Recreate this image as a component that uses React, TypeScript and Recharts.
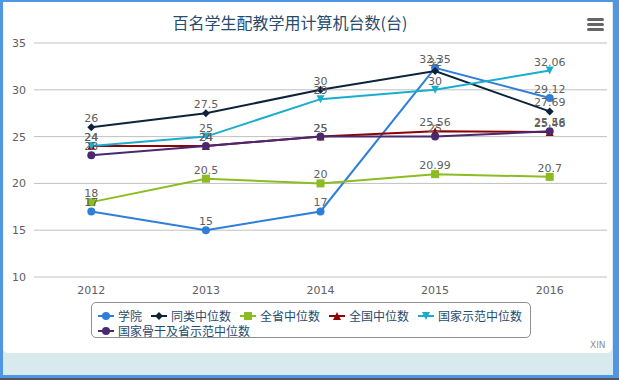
import React from "react";
import { LineChart, Line, XAxis, YAxis, CartesianGrid, LabelList } from "recharts";

const years = [2012, 2013, 2014, 2015, 2016];
const xueyuan = [17, 15, 17, 32.35, 29.12];
const tonglei = [26, 27.5, 30, 32, 27.69];
const quansheng = [18, 20.5, 20, 20.99, 20.7];
const quanguo = [24, 24, 25, 25.56, 25.48];
const guojiaShifan = [24, 25, 29, 30, 32.06];
const guganShifan = [23, 24, 25, 25, 25.56];
const yTicks = [10, 15, 20, 25, 30, 35];
const bandEdges = [2011.5, 2012.5, 2013.5, 2014.5, 2015.5, 2016.5];

const series = [
  { key: "s0", name: "学院", values: xueyuan, color: "#2f7ed8", marker: "circle" },
  { key: "s1", name: "同类中位数", values: tonglei, color: "#0d233a", marker: "diamond" },
  { key: "s2", name: "全省中位数", values: quansheng, color: "#8bbc21", marker: "square" },
  { key: "s3", name: "全国中位数", values: quanguo, color: "#910000", marker: "triangle" },
  { key: "s4", name: "国家示范中位数", values: guojiaShifan, color: "#1aadce", marker: "triangle-down" },
  { key: "s5", name: "国家骨干及省示范中位数", values: guganShifan, color: "#492970", marker: "circle" },
];

const data = years.map((year, i) => {
  const row: Record<string, number> = { year };
  series.forEach((s) => (row[s.key] = s.values[i]));
  return row;
});

function markerShape(shape: string, cx: number, cy: number, color: string, key?: any) {
  switch (shape) {
    case "diamond":
      return <path key={key} d={`M${cx} ${cy - 4}L${cx + 4} ${cy}L${cx} ${cy + 4}L${cx - 4} ${cy}Z`} fill={color} />;
    case "square":
      return <rect key={key} x={cx - 4} y={cy - 4} width={8} height={8} fill={color} />;
    case "triangle":
      return <path key={key} d={`M${cx} ${cy - 4}L${cx + 4} ${cy + 4}L${cx - 4} ${cy + 4}Z`} fill={color} />;
    case "triangle-down":
      return <path key={key} d={`M${cx - 4} ${cy - 4}L${cx + 4} ${cy - 4}L${cx} ${cy + 4}Z`} fill={color} />;
    default:
      return <circle key={key} cx={cx} cy={cy} r={4} fill={color} />;
  }
}

function LegendBox() {
  return (
    <div
      style={{
        position: "absolute",
        left: 91,
        top: 302,
        width: 440,
        height: 36,
        boxSizing: "border-box",
        border: "1px solid #909090",
        borderRadius: 5,
        fontFamily: "'Noto Sans CJK SC', sans-serif",
        fontSize: 12,
        lineHeight: "15px",
        color: "#274b6d",
      }}
    >
      <div style={{ position: "absolute", left: 6, top: 5, width: 450, display: "flex", flexWrap: "wrap" }}>
        {series.map((s) => (
          <div key={s.key} style={{ display: "flex", alignItems: "center", marginRight: 9, height: 15 }}>
            <svg width={16} height={12} style={{ marginRight: 4 }}>
              <line x1={0} y1={6} x2={16} y2={6} stroke={s.color} strokeWidth={2} />
              {markerShape(s.marker, 8, 6, s.color)}
            </svg>
            <span style={{ whiteSpace: "nowrap" }}>{s.name}</span>
          </div>
        ))}
      </div>
    </div>
  );
}

export default function App() {
  return (
    <div style={{ position: "absolute", left: 0, top: 0, width: 619, height: 380, background: "#fff", overflow: "hidden" }}>
      {/* frame */}
      <div style={{ position: "absolute", left: 0, top: 0, width: 619, height: 378, background: "#4f96e4" }} />
      <div style={{ position: "absolute", left: 3, top: 2, width: 610, height: 373, background: "#d8eaee" }} />
      <div style={{ position: "absolute", left: 3, top: 2, width: 609, height: 351, background: "#fff", borderRadius: "0 0 5px 5px" }} />
      <div style={{ position: "absolute", left: 0, top: 378, width: 619, height: 2, background: "#555" }} />

      <div
        style={{
          position: "absolute",
          left: 0,
          top: 11,
          width: 580,
          textAlign: "center",
          fontFamily: "'Noto Sans CJK SC', sans-serif",
          fontSize: 16,
          lineHeight: "22px",
          color: "#274b6d",
        }}
      >
        百名学生配教学用计算机台数(台)
      </div>

      <svg style={{ position: "absolute", left: 586, top: 17 }} width={20} height={16}>
        <rect x={1} y={1} width={17} height={3} rx={1.5} fill="#666" />
        <rect x={1} y={6} width={17} height={3} rx={1.5} fill="#666" />
        <rect x={1} y={11} width={17} height={3} rx={1.5} fill="#666" />
      </svg>

      <div style={{ position: "absolute", left: 0, top: 0 }}>
        <LineChart
          width={619}
          height={380}
          data={data}
          margin={{ top: 43, right: 12, left: 0, bottom: 73 }}
          style={{ fontFamily: "'DejaVu Sans', sans-serif" }}
        >
          <CartesianGrid horizontal vertical={false} stroke="#C0C0C0" />
          <XAxis
            xAxisId={0}
            type="number"
            dataKey="year"
            domain={[2011.5, 2016.5]}
            ticks={bandEdges}
            interval={0}
            tick={false}
            tickSize={5}
            height={0}
            stroke="#C0D0E0"
          />
          <XAxis
            xAxisId="lbl"
            type="number"
            dataKey="year"
            domain={[2011.5, 2016.5]}
            ticks={years}
            interval={0}
            axisLine={false}
            tickLine={false}
            tickSize={0}
            tickMargin={9}
            height={30}
            tick={{ fill: "#606060", fontSize: 11 }}
          />
          <YAxis
            domain={[10, 35]}
            ticks={yTicks}
            interval={0}
            axisLine={false}
            tickLine={false}
            tickSize={0}
            tickMargin={8}
            width={34}
            tick={{ fill: "#606060", fontSize: 11 }}
          />
          {series.map((s) => (
            <Line
              key={s.key}
              xAxisId={0}
              type="linear"
              dataKey={s.key}
              name={s.name}
              stroke={s.color}
              strokeWidth={2}
              isAnimationActive={false}
              dot={(p: any) => markerShape(s.marker, p.cx, p.cy, s.color, p.index)}
              activeDot={false}
            >
              <LabelList dataKey={s.key} position="top" offset={5} fill="#606060" fontSize={11} />
            </Line>
          ))}
        </LineChart>
      </div>

      <LegendBox />

      <div
        style={{
          position: "absolute",
          left: 590,
          top: 340,
          fontFamily: "'DejaVu Sans', sans-serif",
          fontSize: 9,
          color: "#909090",
        }}
      >
        XIN
      </div>
    </div>
  );
}
